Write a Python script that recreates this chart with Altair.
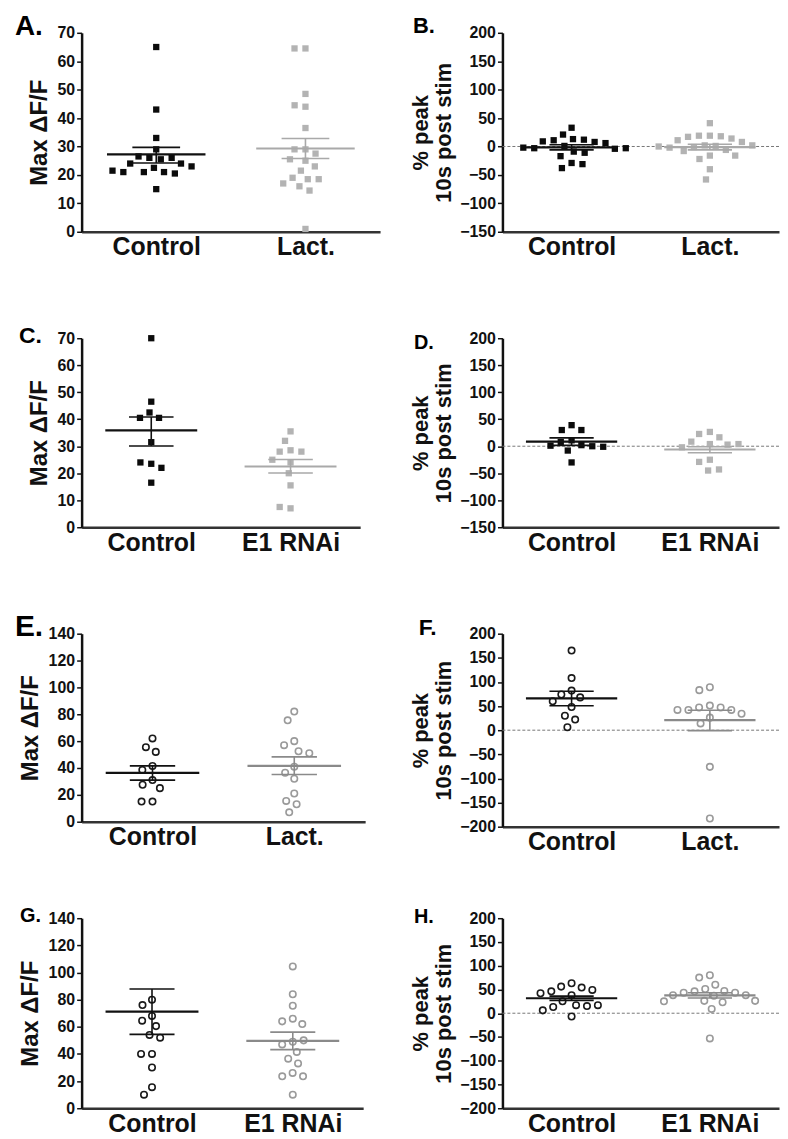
import math
import altair as alt
import pandas as pd

FONT = "Liberation Sans"

# ---------------- data ----------------
CATS_LACT = ["Control", "Lact."]
CATS_RNAI = ["Control", "E1 RNAi"]

A_ctrl = [65, 43, 33, 29, 26, 25.5, 26, 26.5, 24, 24, 22.5, 23, 21, 21, 20.5, 21, 21.5, 15]
A_trt = [64.5, 64.5, 48.5, 44, 44.5, 36.5, 29, 29, 27.5, 25, 25.5, 23, 21.5, 18.5, 19, 18.5, 17, 16, 14.5, 1]
A_mean = [27.2, 29.3]
A_lo = [24.2, 25.8]
A_hi = [29.7, 32.8]

B_ctrl = [33, 21, 13, 12, 11, 8, 9, 6, 1, -3, -4, -2, -3, -9, -11, -17, -29, -31, -38]
B_trt = [41, 19, 19, 18, 17, 14, 11, 8, 2, 1, -1, -2, 2, 0, -6, -8, -16, -16, -22, -40, -58]
B_mean = [-1.5, -1.0]
B_lo = [-6, -6]
B_hi = [3, 4]

C_ctrl = [70, 46.5, 42.5, 40.5, 40.5, 31.5, 23.5, 24, 22, 16.5]
C_trt = [35.5, 32, 28.5, 28, 28, 25, 24, 20, 15.5, 7, 7.5]
C_mean = [35.9, 22.5]
C_lo = [30.1, 20.1]
C_hi = [40.8, 25.1]

D_ctrl = [39, 30, 30, 11, 8, 2, 0, 1, -1, -8, -30]
D_trt = [26.5, 22.7, 16.5, 8.5, 4, 3, 4, -2, -25, -29, -45, -43]
D_mean = [8.4, -6]
D_lo = [1.5, -12]
D_hi = [15.5, -1]

E_ctrl = [62, 55.5, 52, 41.5, 38.5, 31, 27.5, 25, 15, 15]
E_trt = [82, 75.5, 60, 57, 52.5, 51, 41, 36.5, 32, 21, 15.5, 13, 7]
E_mean = [36.4, 41.6]
E_lo = [31.0, 35.2]
E_hi = [41.6, 48.3]

F_ctrl = [165, 108, 82, 74, 68, 60, 48, 30, 22, 6]
F_trt = [89, 83, 51, 47, 47, 42, 42, 42, 34, 26, 14, -76, -183]
F_mean = [65.8, 20.8]
F_lo = [50.8, -1]
F_hi = [80.7, 41.2]

G_ctrl = [80, 76, 68, 64.5, 60.5, 54, 52, 40, 40, 30, 15.5, 10]
G_trt = [104.5, 84, 75.5, 66, 64, 62, 49, 47, 50, 41.5, 36.5, 33, 26, 23.5, 23.5, 10]
G_mean = [71.2, 49.6]
G_lo = [54.4, 43.2]
G_hi = [87.9, 56.1]

H_ctrl = [63, 56, 54, 49, 46, 42, 38, 25, 17, 15, 13, 17, 6, -7]
H_trt = [80, 75, 60, 51, 47, 46, 43, 43, 38, 38, 37, 26, 26, 23, 25, 9, -53]
H_mean = [31.5, 37.7]
H_lo = [27, 32]
H_hi = [36, 43]

LEFT_TITLE = "Max ΔF/F"
RIGHT_TITLE = ["% peak", "10s post stim"]

# ---------------- helpers ----------------
MW = 0.33   # half width of mean line (x units)
CW = 0.16   # half width of SEM caps (x units)


def swarm(values, ppu, r):
    placed = []
    offs = [0.0] * len(values)
    for i, v in enumerate(values):
        y = v * ppu
        cands = [0.0]
        for px, py in placed:
            dy = abs(py - y)
            if dy < r:
                dx = math.sqrt(r * r - dy * dy)
                cands.extend([px + dx, px - dx])
        cands.sort(key=lambda c: (abs(c), c))
        for c in cands:
            if all((c - px) ** 2 + (y - py) ** 2 >= r * r - 1e-6 for px, py in placed):
                offs[i] = c
                placed.append((c, y))
                break
    return offs


def panel(letter, lsize, ldx, ldy, cats, ctrl, trt, means, los, his,
          ydom, ystep, ytitle, tsize, tpad, W, H, circles, zero,
          colors, mcolors):
    y0, y1 = ydom
    ppu = H / (y1 - y0)
    half = W / 2.0
    xs = alt.Scale(domain=[-0.5, 1.5], nice=False, zero=False)
    ys = alt.Scale(domain=[y0, y1], nice=False, zero=False)
    xaxis = alt.Axis(values=[0, 1],
                     labelExpr=f"datum.value == 0 ? '{cats[0]}' : '{cats[1]}'",
                     title=None, grid=False, ticks=False,
                     labelFont=FONT, labelFontSize=25, labelFontWeight="bold",
                     labelColor="#111", labelPadding=3,
                     domainColor="#333", domainWidth=2.5,
                     labelFlush=False, labelOverlap=False)
    yaxis = alt.Axis(values=list(range(y0, y1 + 1, ystep)), title=ytitle,
                     grid=False, ticks=True, tickSize=5, tickWidth=1.5,
                     tickColor="#111", domainColor="#111", domainWidth=2.5,
                     labelFont=FONT, labelFontSize=16, labelFontWeight="bold",
                     labelColor="#111", labelPadding=2, labelFlush=False,
                     labelOverlap=False,
                     titleFont=FONT, titleFontSize=tsize, titleFontWeight="bold",
                     titleColor="#111", titlePadding=tpad, titleLineHeight=23)
    r = 11.0
    layers = []
    if zero:
        layers.append(
            alt.Chart(pd.DataFrame({"z": [0]}))
            .mark_rule(color="#777", strokeDash=[3, 2], strokeWidth=1)
            .encode(y=alt.Y("z:Q", scale=ys, axis=yaxis))
        )
    for gi, vals in enumerate([ctrl, trt]):
        offs = swarm(vals, ppu, r)
        df = pd.DataFrame({"v": vals, "xp": [gi + o / half for o in offs]})
        if circles:
            mk = alt.Chart(df).mark_point(shape="circle", filled=False, size=42,
                                          strokeWidth=1.6, color=colors[gi], opacity=1)
        else:
            mk = alt.Chart(df).mark_square(size=40, color=colors[gi], opacity=1)
        layers.append(mk.encode(x=alt.X("xp:Q", scale=xs, axis=xaxis),
                                y=alt.Y("v:Q", scale=ys, axis=yaxis)))
    for gi in range(2):
        st = pd.DataFrame({"g": [gi], "m": [means[gi]], "lo": [los[gi]], "hi": [his[gi]]})
        base = alt.Chart(st).transform_calculate(
            mx1=f"datum.g - {MW}", mx2=f"datum.g + {MW}",
            cx1=f"datum.g - {CW}", cx2=f"datum.g + {CW}")
        layers.append(base.mark_rule(color=mcolors[gi], strokeWidth=2.2).encode(
            x=alt.X("mx1:Q", scale=xs, axis=xaxis), x2="mx2:Q",
            y=alt.Y("m:Q", scale=ys, axis=yaxis)))
        for fld in ["lo", "hi"]:
            layers.append(base.mark_rule(color=mcolors[gi], strokeWidth=1.6).encode(
                x=alt.X("cx1:Q", scale=xs, axis=xaxis), x2="cx2:Q",
                y=alt.Y(f"{fld}:Q", scale=ys, axis=yaxis)))
        layers.append(base.mark_rule(color=mcolors[gi], strokeWidth=1.6).encode(
            x=alt.X("g:Q", scale=xs, axis=xaxis),
            y=alt.Y("lo:Q", scale=ys, axis=yaxis), y2="hi:Q"))
    layers.append(
        alt.Chart(pd.DataFrame({"t": [letter]}))
        .mark_text(align="left", baseline="top", font=FONT, fontSize=lsize,
                   fontWeight="bold", color="#000")
        .encode(x=alt.value(ldx), y=alt.value(ldy), text="t:N")
    )
    return alt.layer(*layers).properties(width=W, height=H)


BLK = ["#0b0b0b", "#b3b3b3"]
BLK_M = ["#111111", "#a9a9a9"]
CIR = ["#1a1a1a", "#9a9a9a"]
CIR_M = ["#111111", "#8a8a8a"]
WR = 278

pA = panel("A.", 28, -67, -20, CATS_LACT, A_ctrl, A_trt, A_mean, A_lo, A_hi,
           (0, 70), 10, LEFT_TITLE, 24, 6, 300, 200, False, False, BLK, BLK_M)
pB = panel("B.", 22, -90, -17, CATS_LACT, B_ctrl, B_trt, B_mean, B_lo, B_hi,
           (-150, 200), 50, RIGHT_TITLE, 22, 4, WR, 200, False, True, BLK, BLK_M)
pC = panel("C.", 23, -63, -13, CATS_RNAI, C_ctrl, C_trt, C_mean, C_lo, C_hi,
           (0, 70), 10, LEFT_TITLE, 24, 6, 280, 190, False, False, BLK, BLK_M)
pD = panel("D.", 20, -89, -5, CATS_RNAI, D_ctrl, D_trt, D_mean, D_lo, D_hi,
           (-150, 200), 50, RIGHT_TITLE, 22, 4, WR, 190, False, True, BLK, BLK_M)
pE = panel("E.", 30, -67, -22, CATS_LACT, E_ctrl, E_trt, E_mean, E_lo, E_hi,
           (0, 140), 20, LEFT_TITLE, 24, 6, 285, 189, True, False, CIR, CIR_M)
pF = panel("F.", 23, -84, -17, CATS_LACT, F_ctrl, F_trt, F_mean, F_lo, F_hi,
           (-200, 200), 50, RIGHT_TITLE, 22, 4, WR, 194, True, True, CIR, CIR_M)
pG = panel("G.", 20, -62, -12, CATS_RNAI, G_ctrl, G_trt, G_mean, G_lo, G_hi,
           (0, 140), 20, LEFT_TITLE, 24, 6, 283, 191, True, False, CIR, CIR_M)
pH = panel("H.", 20, -89, -11, CATS_RNAI, H_ctrl, H_trt, H_mean, H_lo, H_hi,
           (-200, 200), 50, RIGHT_TITLE, 22, 4, WR, 191, True, True, CIR, CIR_M)


def row(a, b, sp):
    return alt.hconcat(a, b, spacing=sp).resolve_scale(x="independent", y="independent")


r1 = row(pA, pB, 29)
r2 = row(pC, pD, 49)
r3 = row(pE, pF, 44)
r4 = row(pG, pH, 46)

top = alt.vconcat(r1, r2, spacing=66).resolve_scale(x="independent", y="independent")
bottom = alt.vconcat(r3, r4, spacing=52).resolve_scale(x="independent", y="independent")

chart = (
    alt.vconcat(top, bottom, spacing=57)
    .resolve_scale(x="independent", y="independent")
    .properties(padding={"left": 7, "top": 2, "right": 0, "bottom": 0}, background="white")
    .configure(font=FONT)
    .configure_view(stroke=None)
)

chart.save("out.html", embed_options={"renderer": "svg", "actions": False})
